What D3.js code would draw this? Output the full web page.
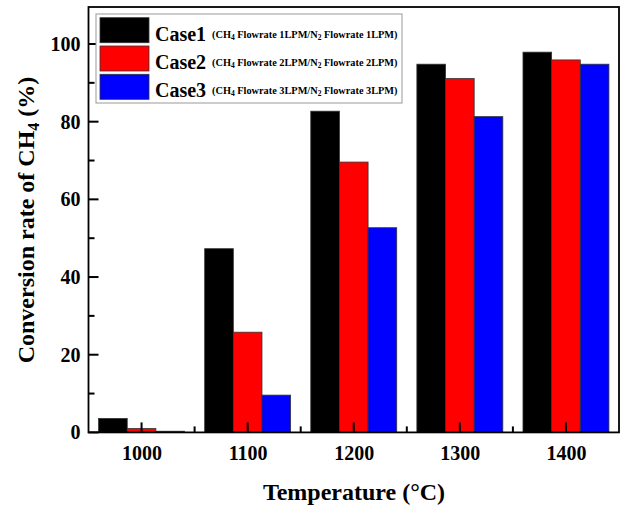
<!DOCTYPE html>
<html><head><meta charset="utf-8">
<script src="https://cdn.jsdelivr.net/npm/d3@7"></script>
<style>body{margin:0;background:#fff}svg{display:block}text{font-family:"Liberation Serif","Times New Roman",serif;font-weight:bold}</style>
</head><body><svg id="c" width="623" height="507"></svg>
<script>
const temps = [1000, 1100, 1200, 1300, 1400];
const case1 = [3.6, 47.3, 82.7, 94.8, 97.9];
const case2 = [1.0, 25.8, 69.6, 91.1, 95.9];
const case3 = [0.3, 9.6, 52.7, 81.3, 94.8];
const seriesNames = ["Case1", "Case2", "Case3"];
const seriesRates = ["1", "2", "3"];
const colors = ["#000000", "#ff0000", "#0000ff"];
const yTicks = [0, 20, 40, 60, 80, 100];
const yMinorTicks = [10, 30, 50, 70, 90];
const xMinorTicks = [1050, 1150, 1250, 1350];

const svg = d3.select("#c");
const L = 88.5, R = 619, T = 7, B = 432.4;
const x = d3.scaleLinear().domain([950, 1450]).range([L, R]);
const y = d3.scaleLinear().domain([0, 100]).range([B, 44]);
const bw = x(1027) - x(1000);
const series = [case1, case2, case3];

series.forEach((vals, si) => {
  svg.append("g").selectAll("rect").data(vals).join("rect")
    .attr("x", (d, i) => x(temps[i]) + (si - 1.5) * bw)
    .attr("width", bw)
    .attr("y", d => y(d))
    .attr("height", d => B - y(d))
    .attr("fill", colors[si])
    .attr("stroke", "#333").attr("stroke-width", 0.8);
});

svg.append("rect").attr("x", L).attr("y", T).attr("width", R - L).attr("height", B - T)
  .attr("fill", "none").attr("stroke", "#000").attr("stroke-width", 1.8);

// ticks (inward)
const tk = svg.append("g");
function tick(cls, data, f) {
  tk.selectAll("." + cls).data(data).join("rect").attr("class", cls)
    .each(function(d) { const r = f(d); d3.select(this).attr("x", r[0]).attr("y", r[1]).attr("width", r[2]).attr("height", r[3]); })
    .attr("fill", "#000");
}
tick("xt", temps, d => [x(d) - 1, B - 10, 2, 10]);
tick("xm", xMinorTicks, d => [x(d) - 1, B - 6, 2, 6]);
tick("yt", yTicks, d => [L, y(d) - 1, 10, 2]);
tick("ym", yMinorTicks, d => [L, y(d) - 1, 6, 2]);

// tick labels via axes
const xAxis = d3.axisBottom(x).tickValues(temps).tickFormat(d3.format("d")).tickSize(0).tickPadding(13);
const gx = svg.append("g").attr("transform", `translate(0,${B})`).call(xAxis);
gx.select(".domain").remove();
gx.selectAll("line").remove();
gx.selectAll("text").attr("font-size", 20).attr("fill", "#000");

const yAxis = d3.axisLeft(y).tickValues(yTicks).tickSize(0).tickPadding(8);
const gy = svg.append("g").attr("transform", `translate(${L},0)`).call(yAxis);
gy.select(".domain").remove();
gy.selectAll("line").remove();
gy.selectAll("text").attr("font-size", 20).attr("fill", "#000");

// titles
svg.append("text").attr("x", 354).attr("y", 500).attr("text-anchor", "middle").attr("font-size", 24)
  .text("Temperature (°C)");
const ytl = svg.append("text").attr("transform", "translate(34,220) rotate(-90)").attr("text-anchor", "middle").attr("font-size", 24);
ytl.append("tspan").text("Conversion rate of CH");
ytl.append("tspan").attr("font-size", 16).attr("dy", 5).text("4");
ytl.append("tspan").attr("dy", -5).text(" (%)");

// legend
const lg = svg.append("g");
lg.append("rect").attr("x", 96).attr("y", 14).attr("width", 306).attr("height", 89)
  .attr("fill", "#fff").attr("stroke", "#999").attr("stroke-width", 1);
seriesNames.forEach((n, i) => {
  const yy = 17.7 + i * 28.3;
  lg.append("rect").attr("x", 100).attr("y", yy).attr("width", 49).attr("height", 25)
    .attr("fill", colors[i]).attr("stroke", "#333").attr("stroke-width", 0.8);
  const t = lg.append("text").attr("x", 155).attr("y", yy + 23).attr("font-size", 20);
  t.append("tspan").text(n);
  t.append("tspan").attr("font-size", 10.3).attr("dx", 6).attr("dy", -3).text("(CH");
  t.append("tspan").attr("font-size", 7.5).attr("dy", 2).text("4");
  t.append("tspan").attr("font-size", 10.3).attr("dy", -2).text(` Flowrate ${seriesRates[i]}LPM/N`);
  t.append("tspan").attr("font-size", 7.5).attr("dy", 2).text("2");
  t.append("tspan").attr("font-size", 10.3).attr("dy", -2).text(` Flowrate ${seriesRates[i]}LPM)`);
});
</script></body></html>
